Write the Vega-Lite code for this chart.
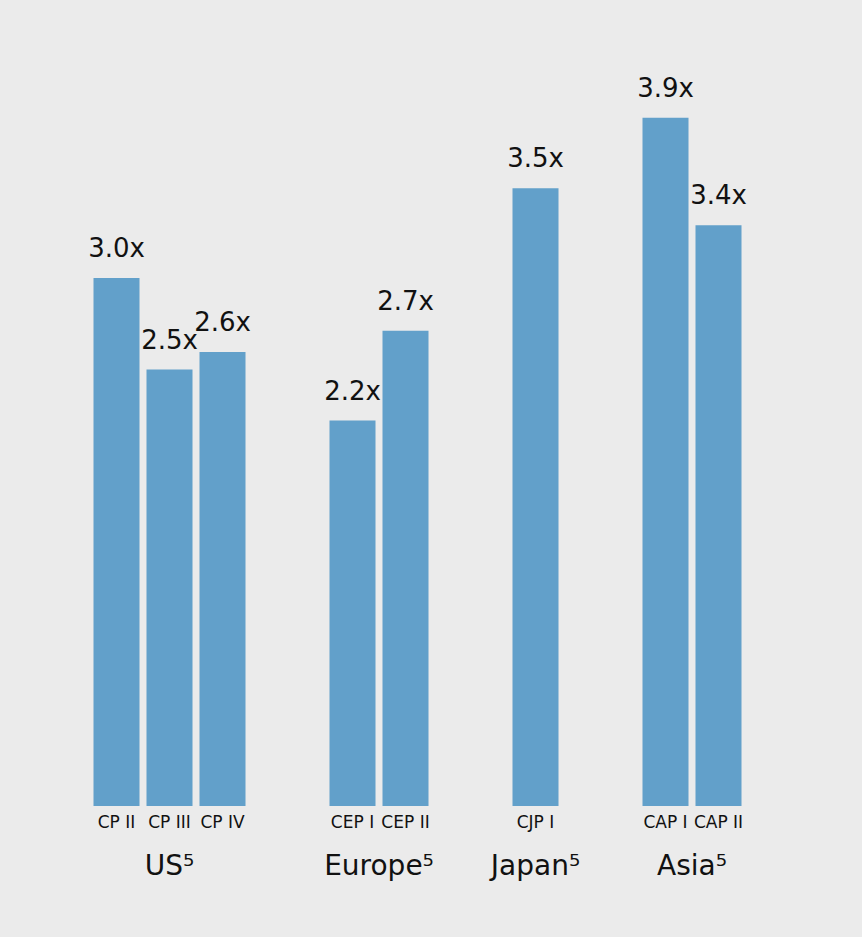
{
  "$schema": "https://vega.github.io/schema/vega-lite/v6.json",
  "background": "#ebebeb",
  "padding": {"left": 88, "top": 14, "right": 125, "bottom": 60},
  "autosize": {"type": "pad"},
  "data": {
    "values": [
      {"group": "US⁵", "name": "CP II", "value": 3.0, "label": "3.0x"},
      {"group": "US⁵", "name": "CP III", "value": 2.48, "label": "2.5x"},
      {"group": "US⁵", "name": "CP IV", "value": 2.58, "label": "2.6x"},
      {"group": "Europe⁵", "name": "CEP I", "value": 2.19, "label": "2.2x"},
      {"group": "Europe⁵", "name": "CEP II", "value": 2.7, "label": "2.7x"},
      {"group": "Japan⁵", "name": "CJP I", "value": 3.51, "label": "3.5x"},
      {"group": "Asia⁵", "name": "CAP I", "value": 3.91, "label": "3.9x"},
      {"group": "Asia⁵", "name": "CAP II", "value": 3.3, "label": "3.4x"}
    ]
  },
  "facet": {
    "column": {
      "field": "group",
      "type": "nominal",
      "sort": ["US⁵", "Europe⁵", "Japan⁵", "Asia⁵"],
      "title": null,
      "header": {
        "labelOrient": "bottom",
        "labelFontSize": 28,
        "labelFont": "DejaVu Sans",
        "labelColor": "#111111",
        "labelPadding": 23
      }
    }
  },
  "spacing": 73,
  "resolve": {"scale": {"x": "independent"}},
  "spec": {
    "width": {"step": 53},
    "height": 792,
    "encoding": {
      "x": {
        "field": "name",
        "type": "nominal",
        "sort": null,
        "scale": {"paddingInner": 0.132, "paddingOuter": 0.066},
        "axis": {
          "title": null,
          "labelAngle": 0,
          "ticks": false,
          "tickSize": 0,
          "domain": false,
          "labelFontSize": 17,
          "labelPadding": 8,
          "labelFont": "DejaVu Sans",
          "labelColor": "#111111"
        }
      },
      "y": {
        "field": "value",
        "type": "quantitative",
        "scale": {"domain": [0, 4.5]},
        "axis": null
      }
    },
    "layer": [
      {"mark": {"type": "bar", "color": "#62a0ca"}},
      {
        "mark": {"type": "text", "fontSize": 26, "font": "DejaVu Sans", "color": "#111111", "baseline": "alphabetic", "dy": -21},
        "encoding": {"text": {"field": "label"}}
      }
    ]
  },
  "config": {"view": {"stroke": null}}
}
